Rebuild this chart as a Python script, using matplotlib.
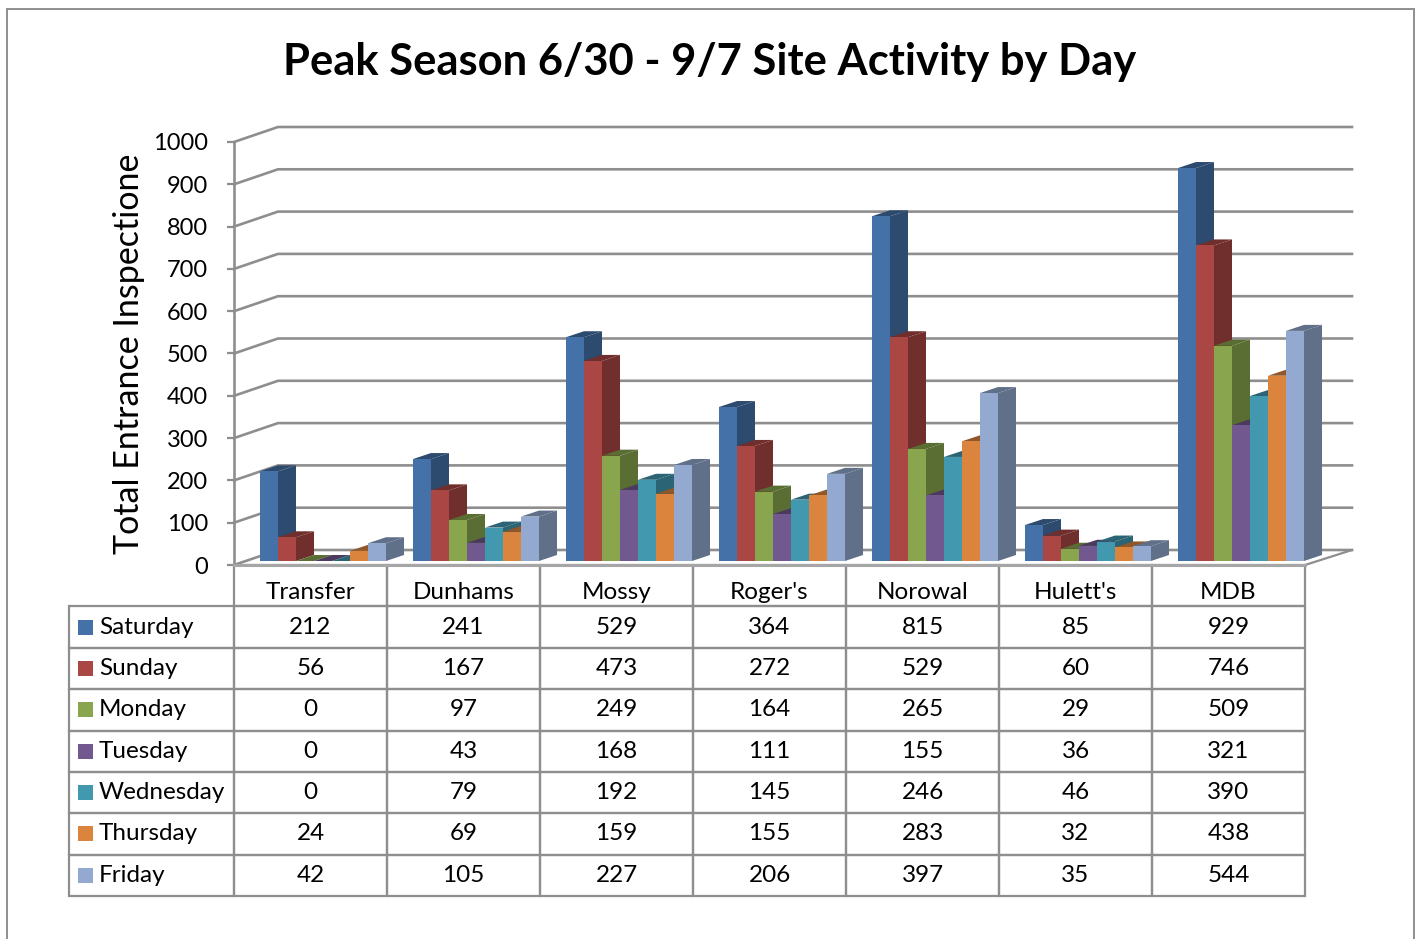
import matplotlib
matplotlib.use('Agg')
from matplotlib import pyplot as plt
from matplotlib.colors import to_rgb
from matplotlib.patches import Rectangle

sites = ['Transfer', 'Dunhams', 'Mossy', "Roger's", 'Norowal', "Hulett's", 'MDB']
days = ['Saturday', 'Sunday', 'Monday', 'Tuesday', 'Wednesday', 'Thursday', 'Friday']
saturday = [212, 241, 529, 364, 815, 85, 929]
sunday = [56, 167, 473, 272, 529, 60, 746]
monday = [0, 97, 249, 164, 265, 29, 509]
tuesday = [0, 43, 168, 111, 155, 36, 321]
wednesday = [0, 79, 192, 145, 246, 46, 390]
thursday = [24, 69, 159, 155, 283, 32, 438]
friday = [42, 105, 227, 206, 397, 35, 544]
series = [saturday, sunday, monday, tuesday, wednesday, thursday, friday]
colors = ['#4472A8', '#AA4643', '#89A54E', '#71588F', '#4198AF', '#DB843D', '#93A9CF']
yticks = list(range(0, 1100, 100))

W, H = 1417, 939
GREY = '#8e8e8e'

# one category is 153 px wide, 100 units are 42.3 px high
PX_X = 1 / 153
PX_Y = 1000 / 423
WALL_L, WALL_R, WALL_Y = 44 * PX_X, 47 * PX_X, 15 * PX_Y
BAR_W = 18 * PX_X
BAR_DX, BAR_DY = 18 * PX_X, 6 * PX_Y
BAR_START = 26 * PX_X
BAR_BASE = 4 * PX_Y


def shade(color, factor):
    return tuple(c * factor for c in to_rgb(color))


def bar3d(ax, x, value, color):
    y0 = BAR_BASE
    y1 = BAR_BASE + value
    x1 = x + BAR_W
    # side, then top, then front so that the next bar paints over this one
    ax.fill([x1, x1 + BAR_DX, x1 + BAR_DX, x1], [y0, y0 + BAR_DY, y1 + BAR_DY, y1],
            color=shade(color, 0.66), lw=0, clip_on=False, zorder=5)
    ax.fill([x, x + BAR_DX, x1 + BAR_DX, x1], [y1, y1 + BAR_DY, y1 + BAR_DY, y1],
            color=shade(color, 0.66), lw=0, clip_on=False, zorder=5)
    ax.fill([x, x1, x1, x], [y0, y0, y1, y1], color=color, lw=0, clip_on=False, zorder=5)


def main():
    plt.rcParams['font.family'] = ['Lato', 'DejaVu Sans']
    fig = plt.figure(figsize=(W / 100, H / 100), dpi=100)
    ax = fig.add_axes([234 / W, 1 - 565 / H, 1071 / W, 423 / H])
    ax.set_xlim(0, len(sites))
    ax.set_ylim(0, 1000)
    ax.patch.set_visible(False)

    fig.add_artist(Rectangle((7 / W, -0.02), 1407 / W, 1.02 - 9 / H, transform=fig.transFigure,
                             fc='none', ec=GREY, lw=1.4))
    fig.text(710 / W, 1 - 62 / H, 'Peak Season 6/30 - 9/7 Site Activity by Day',
             ha='center', va='center', fontsize=31.3, fontweight='bold', color='black')

    for s in ['top', 'right']:
        ax.spines[s].set_visible(False)
    ax.spines['left'].set_color(GREY)
    ax.spines['left'].set_linewidth(1.9)
    ax.spines['bottom'].set_color('#a6a6a6')
    ax.spines['bottom'].set_linewidth(2.2)

    ax.set_yticks(yticks)
    ax.tick_params(axis='y', length=5, width=1.6, color=GREY, pad=13.5, labelsize=17)
    ax.set_xticks([i + 0.5 for i in range(len(sites))], sites)
    ax.tick_params(axis='x', length=0, pad=12, labelsize=17.5)
    ax.set_ylabel('Total Entrance Inspectione', fontsize=24.5)
    ax.yaxis.set_label_coords((145 - 234) / 1071, (565 - 354) / 423)

    # walls
    for v in yticks:
        ax.plot([0, WALL_L, len(sites) + WALL_R], [v, v + WALL_Y, v + WALL_Y],
                color=GREY, lw=1.9, clip_on=False, zorder=1, solid_joinstyle='miter')
    ax.plot([len(sites), len(sites) + WALL_R], [0, WALL_Y], color=GREY, lw=1.6,
            clip_on=False, zorder=1)

    # table under the chart, its bbox only counts the value cells, not the labels
    cells = [[str(v) for v in row] for row in series]
    table = ax.table(cellText=cells, rowLabels=days, colLabels=[''] * len(sites),
                     cellLoc='center', rowLoc='left',
                     colWidths=[1 / len(sites)] * len(sites),
                     bbox=[0, -331 / 423, 1, 331 / 423])
    # ax.table sizes the label column from its text, we want a fixed one
    table._autoColumns.clear()
    table.auto_set_font_size(False)
    table.set_fontsize(17.5)
    for (r, c), cell in table.get_celld().items():
        cell.set_edgecolor(GREY)
        cell.set_linewidth(1.6)
        cell.set_facecolor('none')
        if c == -1:
            cell.set_width(165 / 1071)
            cell.PAD = 30 / 165

    # legend keys inside the row label cells
    row_h = 331 / 8 * PX_Y
    key = 15
    for i, color in enumerate(colors):
        y = -(i + 1.5) * row_h - key / 2 * PX_Y
        ax.add_patch(Rectangle(((78 - 234) * PX_X, y), key * PX_X, key * PX_Y, fc=color, lw=0,
                               clip_on=False, zorder=11))

    for i in range(len(sites)):
        for j, values in enumerate(series):
            bar3d(ax, i + BAR_START + j * BAR_W, values[i], colors[j])

    fig.savefig('out.png', dpi=100)
    print('Saved plot to out.png')


if __name__ == '__main__':
    main()
